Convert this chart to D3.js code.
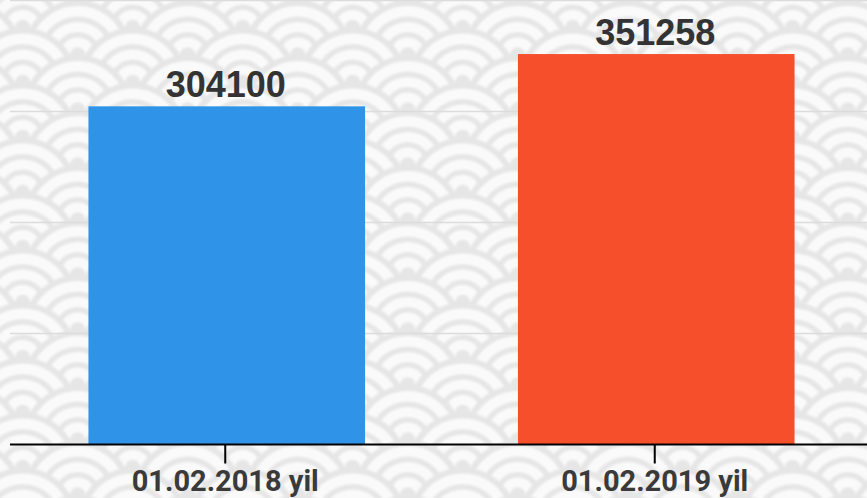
<!DOCTYPE html>
<html><head><meta charset="utf-8">
<script src="https://d3js.org/d3.v7.min.js"></script>
<style>html,body{margin:0;padding:0;background:#fff;overflow:hidden}</style>
</head><body>
<script>
const categories = ["01.02.2018 yil", "01.02.2019 yil"];
const values = [304100, 351258];
const colors = ["#2f93e8", "#f5502b"];
const gridTicks = [100000, 200000, 300000, 400000];

const W = 867, H = 498;
const svg = d3.select("body").append("svg").attr("width", W).attr("height", H);

// seigaiha background
const defs = svg.append("defs");
defs.append("filter").attr("id","soft").append("feGaussianBlur").attr("stdDeviation",0.8);
const bg = svg.append("g").attr("filter","url(#soft)");
bg.append("rect").attr("width",W).attr("height",H).attr("fill","#fafafa");
const g1 = "#e6e6e6", w1 = "#fafafa";
const R = 55, rings = [[1,g1],[0.89,w1],[0.70,g1],[0.60,w1],[0.42,g1],[0.32,w1],[0.14,g1]];
for (let j = -2; j <= 21; j++) {
  const cy = j * 27.5;
  const x0 = (j % 2 === 0) ? 77.7 : 22.7;
  for (let cx = x0 - 110; cx <= W + 110; cx += 110) {
    rings.forEach(([f, c]) => bg.append("circle").attr("cx", cx).attr("cy", cy).attr("r", R * f).attr("fill", c));
  }
}

const x = d3.scaleBand().domain(categories).range([12, 871]).paddingInner(0.356).paddingOuter(0.178);
const y = d3.scaleLinear().domain([0, 400000]).range([443.5, 0]);

// gridlines
svg.append("g").selectAll("line").data(gridTicks).join("line")
  .attr("x1", 10).attr("x2", W).attr("y1", d => Math.round(y(d)) + 0.5).attr("y2", d => Math.round(y(d)) + 0.5)
  .attr("stroke", "#dcdcdc").attr("stroke-width", 1.5);

// bars
svg.append("g").selectAll("rect").data(values).join("rect")
  .attr("x", (d, i) => x(categories[i])).attr("width", x.bandwidth())
  .attr("y", d => y(d)).attr("height", d => y(0) - y(d) + 1)
  .attr("fill", (d, i) => colors[i]);

// value labels
svg.append("g").selectAll("text").data(values).join("text")
  .attr("x", (d, i) => x(categories[i]) + x.bandwidth() / 2 - 1)
  .attr("y", d => y(d) - 9.5)
  .attr("text-anchor", "middle")
  .attr("font-family", "'Liberation Sans', Arial, sans-serif")
  .attr("font-weight", "bold").attr("font-size", 36).attr("fill", "#333")
  .text(d => d);

// x axis
const axis = svg.append("g").attr("transform", `translate(0,${y(0) + 1})`);
axis.append("line").attr("x1", 10).attr("x2", W).attr("stroke", "#000").attr("stroke-width", 2);
const tk = axis.selectAll("g.tick").data(categories).join("g")
  .attr("transform", d => `translate(${x(d) + x.bandwidth() / 2 - 1.5},0)`);
tk.append("line").attr("y1", 0).attr("y2", 19).attr("stroke", "#000").attr("stroke-width", 2);
tk.append("text").attr("y", 46.5).attr("text-anchor", "middle")
  .attr("font-family", "Roboto, sans-serif").attr("font-weight", 700)
  .attr("font-size", 29).attr("fill", "#3a3a3a").text(d => d);
</script>
</body></html>
